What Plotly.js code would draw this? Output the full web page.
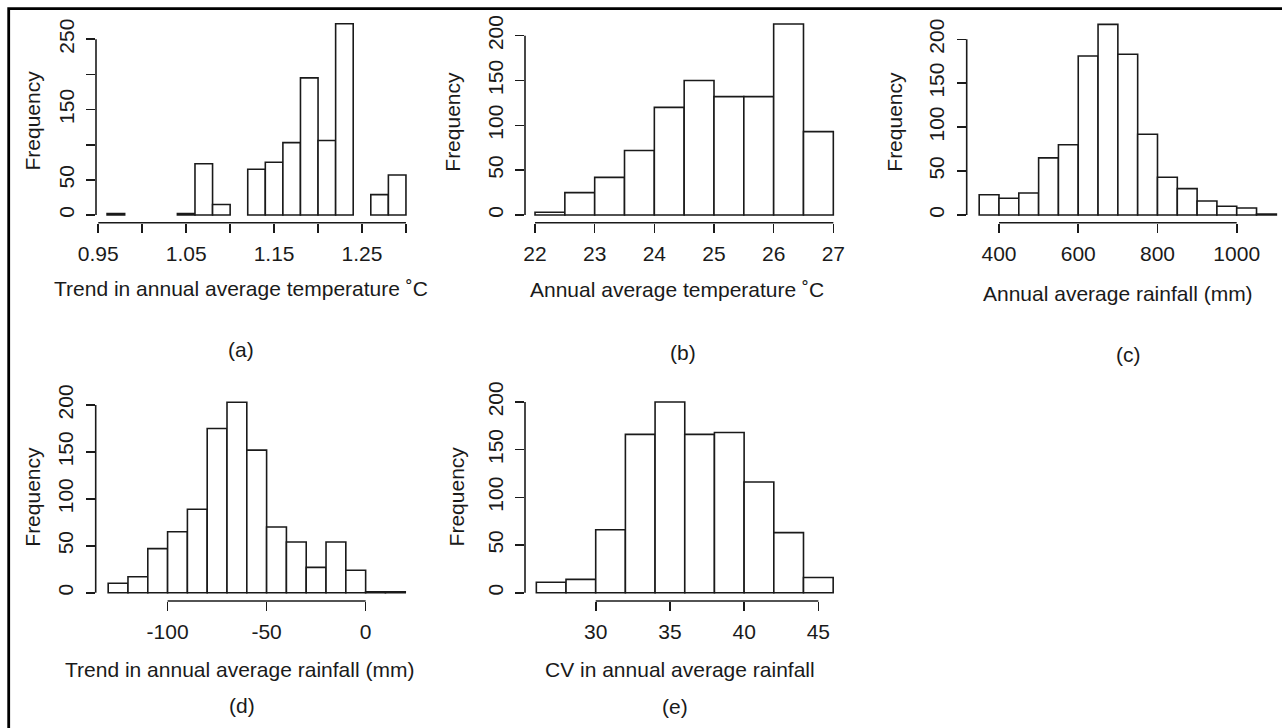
<!DOCTYPE html>
<html>
<head>
<meta charset="utf-8">
<script src="https://cdn.plot.ly/plotly-3.0.1.min.js"></script>
<style>html,body{margin:0;padding:0;background:#fff;}#chart{width:1282px;height:728px;}</style>
</head>
<body>
<div id="chart"></div>
<script>
// ---------- DATA ----------
const aBreaks = [0.96,0.98,1.00,1.02,1.04,1.06,1.08,1.10,1.12,1.14,1.16,1.18,1.20,1.22,1.24,1.26,1.28,1.30];
const aCounts = [2,0,0,0,2,73,15,0,65,75,103,195,106,272,0,29,57];
const aXTicks = [0.95,1.00,1.05,1.10,1.15,1.20,1.25,1.30];
const aXLabels = ['0.95','','1.05','','1.15','','1.25',''];
const aYTicks = [0,50,100,150,200,250];
const aYLabels = ['0','50','','150','','250'];

const bBreaks = [22,22.5,23,23.5,24,24.5,25,25.5,26,26.5,27];
const bCounts = [3,25,42,72,120,150,132,132,213,93];
const bXTicks = [22,23,24,25,26,27];
const bXLabels = ['22','23','24','25','26','27'];
const bYTicks = [0,50,100,150,200];
const bYLabels = ['0','50','100','150','200'];

const cBreaks = [350,400,450,500,550,600,650,700,750,800,850,900,950,1000,1050,1100];
const cCounts = [23,19,25,65,80,181,217,183,92,43,30,16,10,8,1];
const cXTicks = [400,600,800,1000];
const cXLabels = ['400','600','800','1000'];
const cYTicks = [0,50,100,150,200];
const cYLabels = ['0','50','100','150','200'];

const dBreaks = [-130,-120,-110,-100,-90,-80,-70,-60,-50,-40,-30,-20,-10,0,10,20];
const dCounts = [10,17,47,65,89,175,203,152,70,54,27,54,24,1,1];
const dXTicks = [-100,-50,0];
const dXLabels = ['-100','-50','0'];
const dYTicks = [0,50,100,150,200];
const dYLabels = ['0','50','100','150','200'];

const eBreaks = [26,28,30,32,34,36,38,40,42,44,46];
const eCounts = [11,14,66,166,200,166,168,116,63,16];
const eXTicks = [30,35,40,45];
const eXLabels = ['30','35','40','45'];
const eYTicks = [0,50,100,150,200];
const eYLabels = ['0','50','100','150','200'];

const xTitles = ['Trend in annual average temperature ˚C','Annual average temperature ˚C','Annual average rainfall (mm)','Trend in annual average rainfall (mm)','CV in annual average rainfall'];
const panelTags = ['(a)','(b)','(c)','(d)','(e)'];
const yTitle = 'Frequency';

// ---------- LAYOUT ----------
const W = 1282, H = 728;
const FONT = '"Liberation Sans", Arial, Helvetica, sans-serif';
const FS = 21;
const INK = '#1a1a1a';
const LW = 1.6;

const panels = [
  {br:aBreaks, ct:aCounts, xt:aXTicks, xl:aXLabels, yt:aYTicks, yl:aYLabels,
   xd:[96,410], yd:[20,222.7], xr:[0.9474,1.3046], yr:[-10.95,277.4],
   tt:[241,289], tg:[241,349], fq:[32.5,121]},
  {br:bBreaks, ct:bCounts, xt:bXTicks, xl:bXLabels, yt:bYTicks, yl:bYLabels,
   xd:[525,840], yd:[20,222.7], xr:[21.832,27.112], yr:[-8.59,217.5],
   tt:[677,290], tg:[683,352], fq:[453,121.7]},
  {br:cBreaks, ct:cCounts, xt:cXTicks, xl:cXLabels, yt:cYTicks, yl:cYLabels,
   xd:[966.7,1280], yd:[20,222.7], xr:[318.5,1109.2], yr:[-8.77,222.0],
   tt:[1118,293], tg:[1128,354], fq:[895,121.7]},
  {br:dBreaks, ct:dCounts, xt:dXTicks, xl:dXLabels, yt:dYTicks, yl:dYLabels,
   xd:[95.7,410], yd:[395,601], xr:[-136.3,22.4], yr:[-8.84,210.7],
   tt:[239,669], tg:[242,705], fq:[33,496.7]},
  {br:eBreaks, ct:eCounts, xt:eXTicks, xl:eXLabels, yt:eYTicks, yl:eYLabels,
   xd:[525,840], yd:[395,601], xr:[25.236,46.46], yr:[-8.7,207.3],
   tt:[680,669], tg:[675,706], fq:[456.7,496.7]}
];

const data = [];
const layout = {
  width: W, height: H, autosize: false,
  margin: {l:0, r:0, t:0, b:0, pad:0},
  paper_bgcolor: '#ffffff', plot_bgcolor: 'rgba(0,0,0,0)',
  showlegend: false,
  font: {family: FONT, size: FS, color: INK},
  shapes: [], annotations: []
};

const px = v => v / W;
const py = v => 1 - v / H;

panels.forEach((p, i) => {
  const n = i + 1;
  const xa = 'x' + (n === 1 ? '' : n), ya = 'y' + (n === 1 ? '' : n);
  const xk = 'xaxis' + (n === 1 ? '' : n), yk = 'yaxis' + (n === 1 ? '' : n);
  const mids = [], widths = [], vals = [];
  for (let k = 0; k < p.ct.length; k++) {
    if (p.ct[k] === 0) continue;
    mids.push((p.br[k] + p.br[k+1]) / 2);
    widths.push(p.br[k+1] - p.br[k]);
    vals.push(p.ct[k]);
  }
  data.push({
    type: 'bar', x: mids, y: vals, width: widths, xaxis: xa, yaxis: ya,
    marker: {color: '#ffffff', line: {color: INK, width: LW}},
    hoverinfo: 'x+y'
  });
  layout[xk] = {
    domain: [px(p.xd[0]), px(p.xd[1])], range: p.xr, anchor: ya,
    showgrid: false, zeroline: false, showline: false,
    tickmode: 'array', tickvals: p.xt, ticktext: p.xl,
    ticks: 'outside', ticklen: 9, tickwidth: LW, tickcolor: INK,
    ticklabelstandoff: 3,
    tickfont: {family: FONT, size: FS, color: INK}
  };
  layout[yk] = {
    domain: [py(p.yd[1]), py(p.yd[0])], range: p.yr, anchor: xa,
    showgrid: false, zeroline: false, showline: false,
    tickmode: 'array', tickvals: p.yt, ticktext: p.yl,
    ticks: 'outside', ticklen: 9, tickwidth: LW, tickcolor: INK,
    tickangle: -90, ticklabelstandoff: 4,
    tickfont: {family: FONT, size: FS, color: INK}
  };
  // R-style axis lines spanning first to last tick
  layout.shapes.push({type:'line', xref: xa, yref: ya + ' domain',
    x0: p.xt[0], x1: p.xt[p.xt.length-1], y0: 0, y1: 0,
    line: {color: INK, width: LW}});
  layout.shapes.push({type:'line', xref: xa + ' domain', yref: ya,
    x0: 0, x1: 0, y0: p.yt[0], y1: p.yt[p.yt.length-1],
    line: {color: INK, width: LW}});
  // titles
  layout.annotations.push({text: xTitles[i], xref:'paper', yref:'paper',
    x: px(p.tt[0]), y: py(p.tt[1]), xanchor:'center', yanchor:'middle',
    showarrow:false, font:{family:FONT, size:FS, color:INK}});
  layout.annotations.push({text: panelTags[i], xref:'paper', yref:'paper',
    x: px(p.tg[0]), y: py(p.tg[1]), xanchor:'center', yanchor:'middle',
    showarrow:false, font:{family:FONT, size:FS, color:INK}});
  layout.annotations.push({text: yTitle, xref:'paper', yref:'paper',
    x: px(p.fq[0]), y: py(p.fq[1]), xanchor:'center', yanchor:'middle',
    textangle: -90, showarrow:false, font:{family:FONT, size:FS, color:INK}});
});

// outer frame
layout.shapes.push({type:'rect', xref:'paper', yref:'paper',
  x0: px(8.7), x1: px(1295), y0: py(8.7), y1: py(745),
  line: {color: '#000000', width: 2.8}, fillcolor: 'rgba(0,0,0,0)'});

Plotly.newPlot('chart', data, layout, {staticPlot: true, displayModeBar: false});
</script>
</body>
</html>
